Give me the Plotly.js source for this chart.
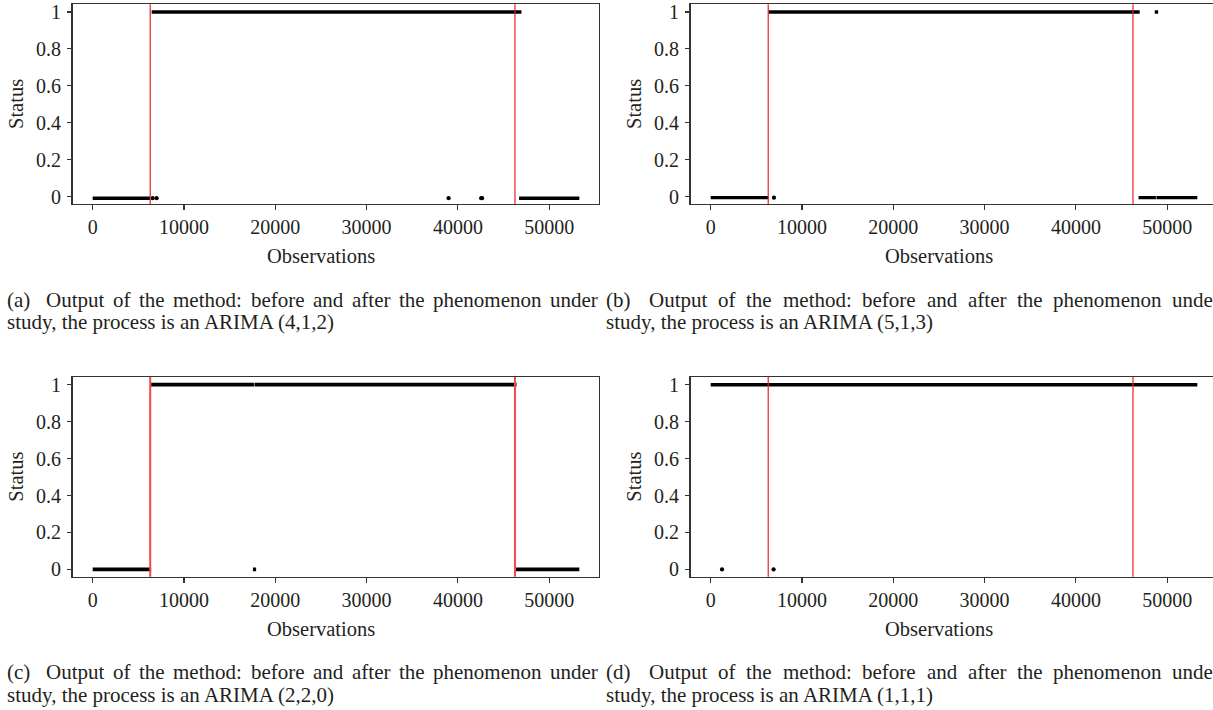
<!DOCTYPE html>
<html>
<head>
<meta charset="utf-8">
<script src="https://cdn.plot.ly/plotly-3.0.1.min.js"></script>
<style>
html, body { margin: 0; padding: 0; overflow: hidden; background: #fff; }
#chart { width: 1230px; height: 710px; }
</style>
</head>
<body>
<div id="chart"></div>
<script>
// ---------------- DATA ----------------
const panelLabels = ['(a)', '(b)', '(c)', '(d)'];
const arimaOrders = ['(4,1,2)', '(5,1,3)', '(2,2,0)', '(1,1,1)'];
const captionLine1 = 'Output of the method: before and after the phenomenon under';
const captionLine2Prefix = 'study, the process is an ARIMA ';
const xTickVals = [0, 10000, 20000, 30000, 40000, 50000];
const yTickVals = [0, 0.2, 0.4, 0.6, 0.8, 1];
const changePoints = [6300, 46250];

// runs of consecutive observations (start, end) at status 0 and status 1
const aZeroStart = [0, 46700];
const aZeroEnd   = [6280, 53300];
const aOneStart  = [6460];
const aOneEnd    = [46960];
const aZeroPts   = [6570, 7000, 38980, 42550, 42650];
const aOnePts    = [];

const bZeroStart = [0, 46860, 48820];
const bZeroEnd   = [6310, 48760, 53300];
const bOneStart  = [6330, 48640];
const bOneEnd    = [46990, 49010];
const bZeroPts   = [6930];
const bOnePts    = [];

const cZeroStart = [0, 17550, 46350];
const cZeroEnd   = [6400, 17900, 53300];
const cOneStart  = [6400, 17720];
const cOneEnd    = [17660, 46420];
const cZeroPts   = [];
const cOnePts    = [];

const dZeroStart = [];
const dZeroEnd   = [];
const dOneStart  = [0];
const dOneEnd    = [53300];
const dZeroPts   = [1240, 6890];
const dOnePts    = [];

// ---------------- LAYOUT GEOMETRY (pixels) ----------------
const W = 1230, H = 710;
const FONT = 'Liberation Serif, Times New Roman, serif';
const TXT = '#231f20';
const boxW = 526.3, boxH = 199.7;
const panelPos = [
  {left: 72.7,  top: 4.3},
  {left: 690.7, top: 4.3},
  {left: 72.7,  top: 377.0},
  {left: 690.7, top: 377.0}
];
const runs = [
  [aZeroStart, aZeroEnd, aOneStart, aOneEnd, aZeroPts, aOnePts],
  [bZeroStart, bZeroEnd, bOneStart, bOneEnd, bZeroPts, bOnePts],
  [cZeroStart, cZeroEnd, cOneStart, cOneEnd, cZeroPts, cOnePts],
  [dZeroStart, dZeroEnd, dOneStart, dOneEnd, dZeroPts, dOnePts]
];
const redStyle = [
  {color: '#e8211c', width: 1.2},
  {color: '#e8211c', width: 1.2},
  {color: '#f04a45', width: 2.0},
  {color: '#e8211c', width: 1.2}
];
const runWidth = [3.4, 3.4, 3.8, 3.4];
const zeroDrop = [-0.008, -0.005, 0, 0];

const px = p => p / W;
const py = p => 1 - p / H;

function runTrace(starts, ends, val, xa, ya, w) {
  const x = [], y = [];
  for (let i = 0; i < starts.length; i++) {
    x.push(starts[i], ends[i], null);
    y.push(val, val, null);
  }
  return {x, y, xaxis: xa, yaxis: ya, type: 'scatter', mode: 'lines',
          line: {color: '#000', width: w}, hoverinfo: 'skip', showlegend: false};
}
function ptTrace(xs, val, xa, ya) {
  return {x: xs, y: xs.map(() => val), xaxis: xa, yaxis: ya, type: 'scatter', mode: 'markers',
          marker: {color: '#000', size: 4.2}, hoverinfo: 'skip', showlegend: false};
}

const data = [];
const layout = {
  width: W, height: H,
  margin: {l: 0, r: 0, t: 0, b: 0},
  paper_bgcolor: '#fff', plot_bgcolor: '#fff',
  font: {family: FONT, color: TXT, size: 20},
  showlegend: false,
  shapes: [], annotations: []
};

runs.forEach((r, i) => {
  const n = i + 1;
  const xa = 'x' + (n === 1 ? '' : n), ya = 'y' + (n === 1 ? '' : n);
  const xk = 'xaxis' + (n === 1 ? '' : n), yk = 'yaxis' + (n === 1 ? '' : n);
  data.push(runTrace(r[0], r[1], 0 + zeroDrop[i], xa, ya, runWidth[i]));
  data.push(runTrace(r[2], r[3], 1, xa, ya, runWidth[i]));
  data.push(ptTrace(r[4], 0 + zeroDrop[i], xa, ya));
  data.push(ptTrace(r[5], 1, xa, ya));
  const p = panelPos[i];
  const axCommon = {
    showgrid: false, zeroline: false, showline: true, mirror: true,
    linecolor: '#333', linewidth: 1.3, ticks: 'outside', ticklen: 4.5,
    tickcolor: '#333', tickwidth: 1.1, fixedrange: true,
    tickfont: {family: FONT, size: 20, color: TXT}
  };
  layout[xk] = Object.assign({}, axCommon, {
    domain: [px(p.left), px(p.left + boxW)], anchor: ya,
    range: [-2190, 55455], tickvals: xTickVals, tickformat: 'd'
  });
  layout[yk] = Object.assign({}, axCommon, {
    domain: [py(p.top + boxH), py(p.top)], anchor: xa,
    range: [-0.0395, 1.0417], tickvals: yTickVals, ticklabelstandoff: 2
  });
  changePoints.forEach(cp => {
    layout.shapes.push({type: 'line', xref: xa, yref: ya + ' domain', x0: cp, x1: cp, y0: 0, y1: 1,
                        line: {color: redStyle[i].color, width: redStyle[i].width}});
  });
  // axis titles
  layout.annotations.push({text: 'Observations', xref: 'paper', yref: 'paper',
    x: px(p.left + 248), y: py(p.top + 251.7), xanchor: 'center', yanchor: 'middle',
    showarrow: false, font: {family: FONT, size: 20.5, color: TXT}});
  layout.annotations.push({text: 'Status', xref: 'paper', yref: 'paper', textangle: -90,
    x: px(p.left - 56.7), y: py(p.top + 99.7), xanchor: 'center', yanchor: 'middle',
    showarrow: false, font: {family: FONT, size: 20.5, color: TXT}});
});

// ---------------- CAPTIONS (line 1 justified) ----------------
const capCols = [
  {x0: 6, x1: 597, y1: 299.5, y2: 322.5},
  {x0: 604.5, x1: 1219, y1: 299.5, y2: 322.5},
  {x0: 6, x1: 597, y1: 672.2, y2: 695.2},
  {x0: 604.5, x1: 1219, y1: 672.2, y2: 695.2}
];
const CAP_SIZE = 21;
const ctx = document.createElement('canvas').getContext('2d');
ctx.font = CAP_SIZE + 'px "Liberation Serif"';
capCols.forEach((c, i) => {
  const words = [panelLabels[i]].concat(captionLine1.split(' '));
  const widths = words.map(w => ctx.measureText(w).width);
  const total = widths.reduce((s, v) => s + v, 0);
  const weights = words.slice(1).map((w, k) => (k === 0 ? 1.8 : 1));
  const wsum = weights.reduce((s, v) => s + v, 0);
  const unit = (c.x1 - c.x0 - total) / wsum;
  let x = c.x0;
  words.forEach((w, k) => {
    layout.annotations.push({text: w, xref: 'paper', yref: 'paper',
      x: px(x - 1), y: py(c.y1), xanchor: 'left', yanchor: 'middle', showarrow: false,
      font: {family: FONT, size: CAP_SIZE, color: TXT}});
    x += widths[k] + (k < weights.length ? weights[k] * unit : 0);
  });
  layout.annotations.push({text: captionLine2Prefix + arimaOrders[i], xref: 'paper', yref: 'paper',
    x: px(c.x0 - 1), y: py(c.y2), xanchor: 'left', yanchor: 'middle', showarrow: false,
    font: {family: FONT, size: CAP_SIZE, color: TXT}});
});

Plotly.newPlot('chart', data, layout, {staticPlot: true, displayModeBar: false});
</script>
</body>
</html>
